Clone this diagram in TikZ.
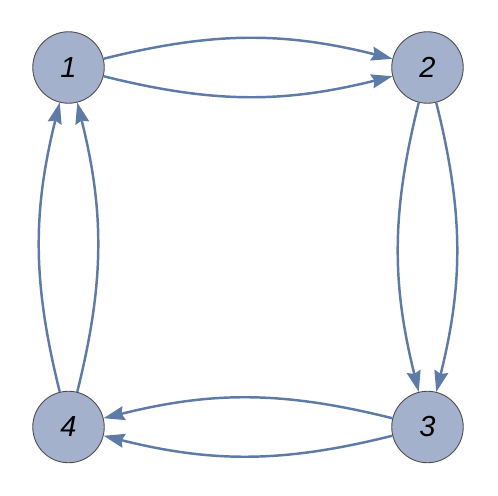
\documentclass[tikz,border=0pt]{standalone}
\usepackage{fontspec}
\setmainfont{Liberation Sans}
\usetikzlibrary{arrows.meta}
\definecolor{vfill}{RGB}{164,177,204}
\definecolor{eline}{RGB}{94,122,166}

\begin{document}
\begin{tikzpicture}[x=0.02cm,y=-0.02cm,
  vert/.style={circle,draw=black!70,line width=0.5pt,fill=vfill,minimum size=1.43cm,inner sep=0pt,font=\fontsize{16.5}{18}\selectfont\itshape},
  edge/.style={draw=eline,line width=1.4pt,-{Stealth[length=0.42cm,width=0.28cm,inset=0.05cm]}}]
\useasboundingbox (0,0) rectangle (498,496);
\node[vert] (n1) at (68.5,67.5) {1};
\node[vert] (n2) at (427.5,67.5) {2};
\node[vert] (n3) at (427.5,427) {3};
\node[vert] (n4) at (68.5,427) {4};
% two parallel edges on every side
\draw[edge] (n1) to[bend left=14] (n2);
\draw[edge] (n1) to[bend right=14] (n2);
\draw[edge] (n2) to[bend left=14] (n3);
\draw[edge] (n2) to[bend right=14] (n3);
\draw[edge] (n3) to[bend left=14] (n4);
\draw[edge] (n3) to[bend right=14] (n4);
\draw[edge] (n4) to[bend left=14] (n1);
\draw[edge] (n4) to[bend right=14] (n1);
\end{tikzpicture}
\end{document}
